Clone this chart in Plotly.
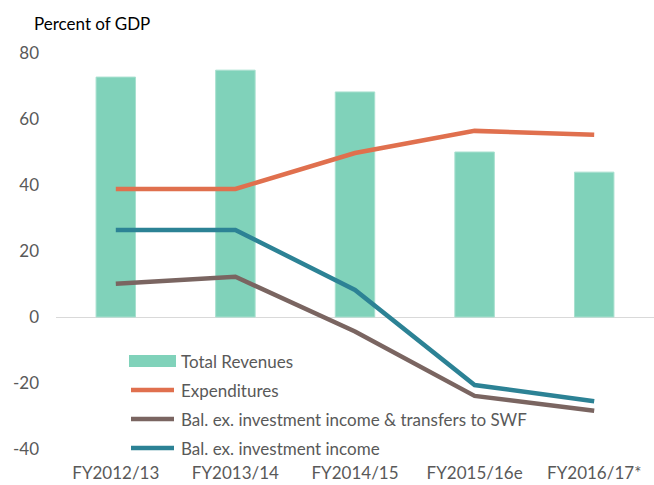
import plotly.graph_objects as go

categories = ["FY2012/13", "FY2013/14", "FY2014/15", "FY2015/16e", "FY2016/17*"]
total_revenues = [72.7, 74.8, 68.2, 50.0, 43.9]
expenditures = [38.8, 38.8, 49.7, 56.4, 55.2]
bal_ex_inv_swf = [10.1, 12.2, -4.4, -23.9, -28.4]
bal_ex_inv = [26.4, 26.4, 8.2, -20.6, -25.5]
y_ticks = [-40, -20, 0, 20, 40, 60, 80]
y_tick_labels = [str(v) for v in y_ticks]

names = ["Total Revenues", "Expenditures",
         "Bal. ex. investment income & transfers to SWF",
         "Bal. ex. investment income"]
c_bar = "#80D2BA"
c_exp = "#E0704E"
c_brown = "#7A6561"
c_teal = "#2C8295"

FONT = "Lato"
FS = 17
GRAY = "#595959"

fig = go.Figure()
fig.add_trace(go.Bar(x=categories, y=total_revenues, name=names[0],
                     marker=dict(color=c_bar, line=dict(color="#A8E0CF", width=1)),
                     width=0.33, showlegend=False))
fig.add_trace(go.Scatter(x=categories, y=expenditures, name=names[1], mode="lines",
                         line=dict(color=c_exp, width=4.5), showlegend=False))
fig.add_trace(go.Scatter(x=categories, y=bal_ex_inv_swf, name=names[2], mode="lines",
                         line=dict(color=c_brown, width=4.5), showlegend=False))
fig.add_trace(go.Scatter(x=categories, y=bal_ex_inv, name=names[3], mode="lines",
                         line=dict(color=c_teal, width=4.5), showlegend=False))

# custom legend (Excel-style wide symbols)
W = 654
L = 56
R = 0
pw = W - L - R
def px(xp):
    return (xp - L) / pw

H = 485
T = 53
B = 36
ph = H - T - B
def py(yp):
    return 1 - (yp - T) / ph

rows = [361, 390, 419, 448]
colors = [c_bar, c_exp, c_brown, c_teal]
shapes = []
annotations = []
for i, (nm, col, yr) in enumerate(zip(names, colors, rows)):
    if i == 0:
        shapes.append(dict(type="rect", xref="paper", yref="paper",
                           x0=px(129), x1=px(176), y0=py(yr + 6), y1=py(yr - 6),
                           fillcolor=col, line=dict(width=0)))
    else:
        shapes.append(dict(type="line", xref="paper", yref="paper",
                           x0=px(131), x1=px(174), y0=py(yr), y1=py(yr),
                           line=dict(color=col, width=4.5)))
    annotations.append(dict(text=nm, xref="paper", yref="paper", x=px(179), y=py(yr),
                            xanchor="left", yanchor="middle", showarrow=False,
                            font=dict(family=FONT, size=FS, color=GRAY)))

annotations.append(dict(text="Percent of GDP", xref="paper", yref="paper",
                        x=px(32), y=py(23), xanchor="left", yanchor="middle",
                        showarrow=False, font=dict(family=FONT, size=FS, color="#000000")))

fig.update_layout(
    width=W, height=H,
    margin=dict(l=L, r=R, t=T, b=B, pad=0),
    paper_bgcolor="white", plot_bgcolor="white",
    font=dict(family=FONT, size=FS, color=GRAY),
    shapes=shapes, annotations=annotations,
    showlegend=False,
    xaxis=dict(type="category", showgrid=False, showline=False, ticks="",
               tickfont=dict(family=FONT, size=FS, color=GRAY),
               ticklabelstandoff=12, automargin=False, fixedrange=True),
    yaxis=dict(range=[-40, 80], tickvals=y_ticks, ticktext=y_tick_labels,
               showgrid=False, showline=False,
               zeroline=True, zerolinecolor="#D9D9D9", zerolinewidth=1.3,
               ticks="", tickfont=dict(family=FONT, size=FS, color=GRAY),
               ticklabelstandoff=16, automargin=False),
)

fig.write_html("out.html", config={"displayModeBar": False},
               post_script="document.body.style.margin='0';document.body.style.padding='0';")
